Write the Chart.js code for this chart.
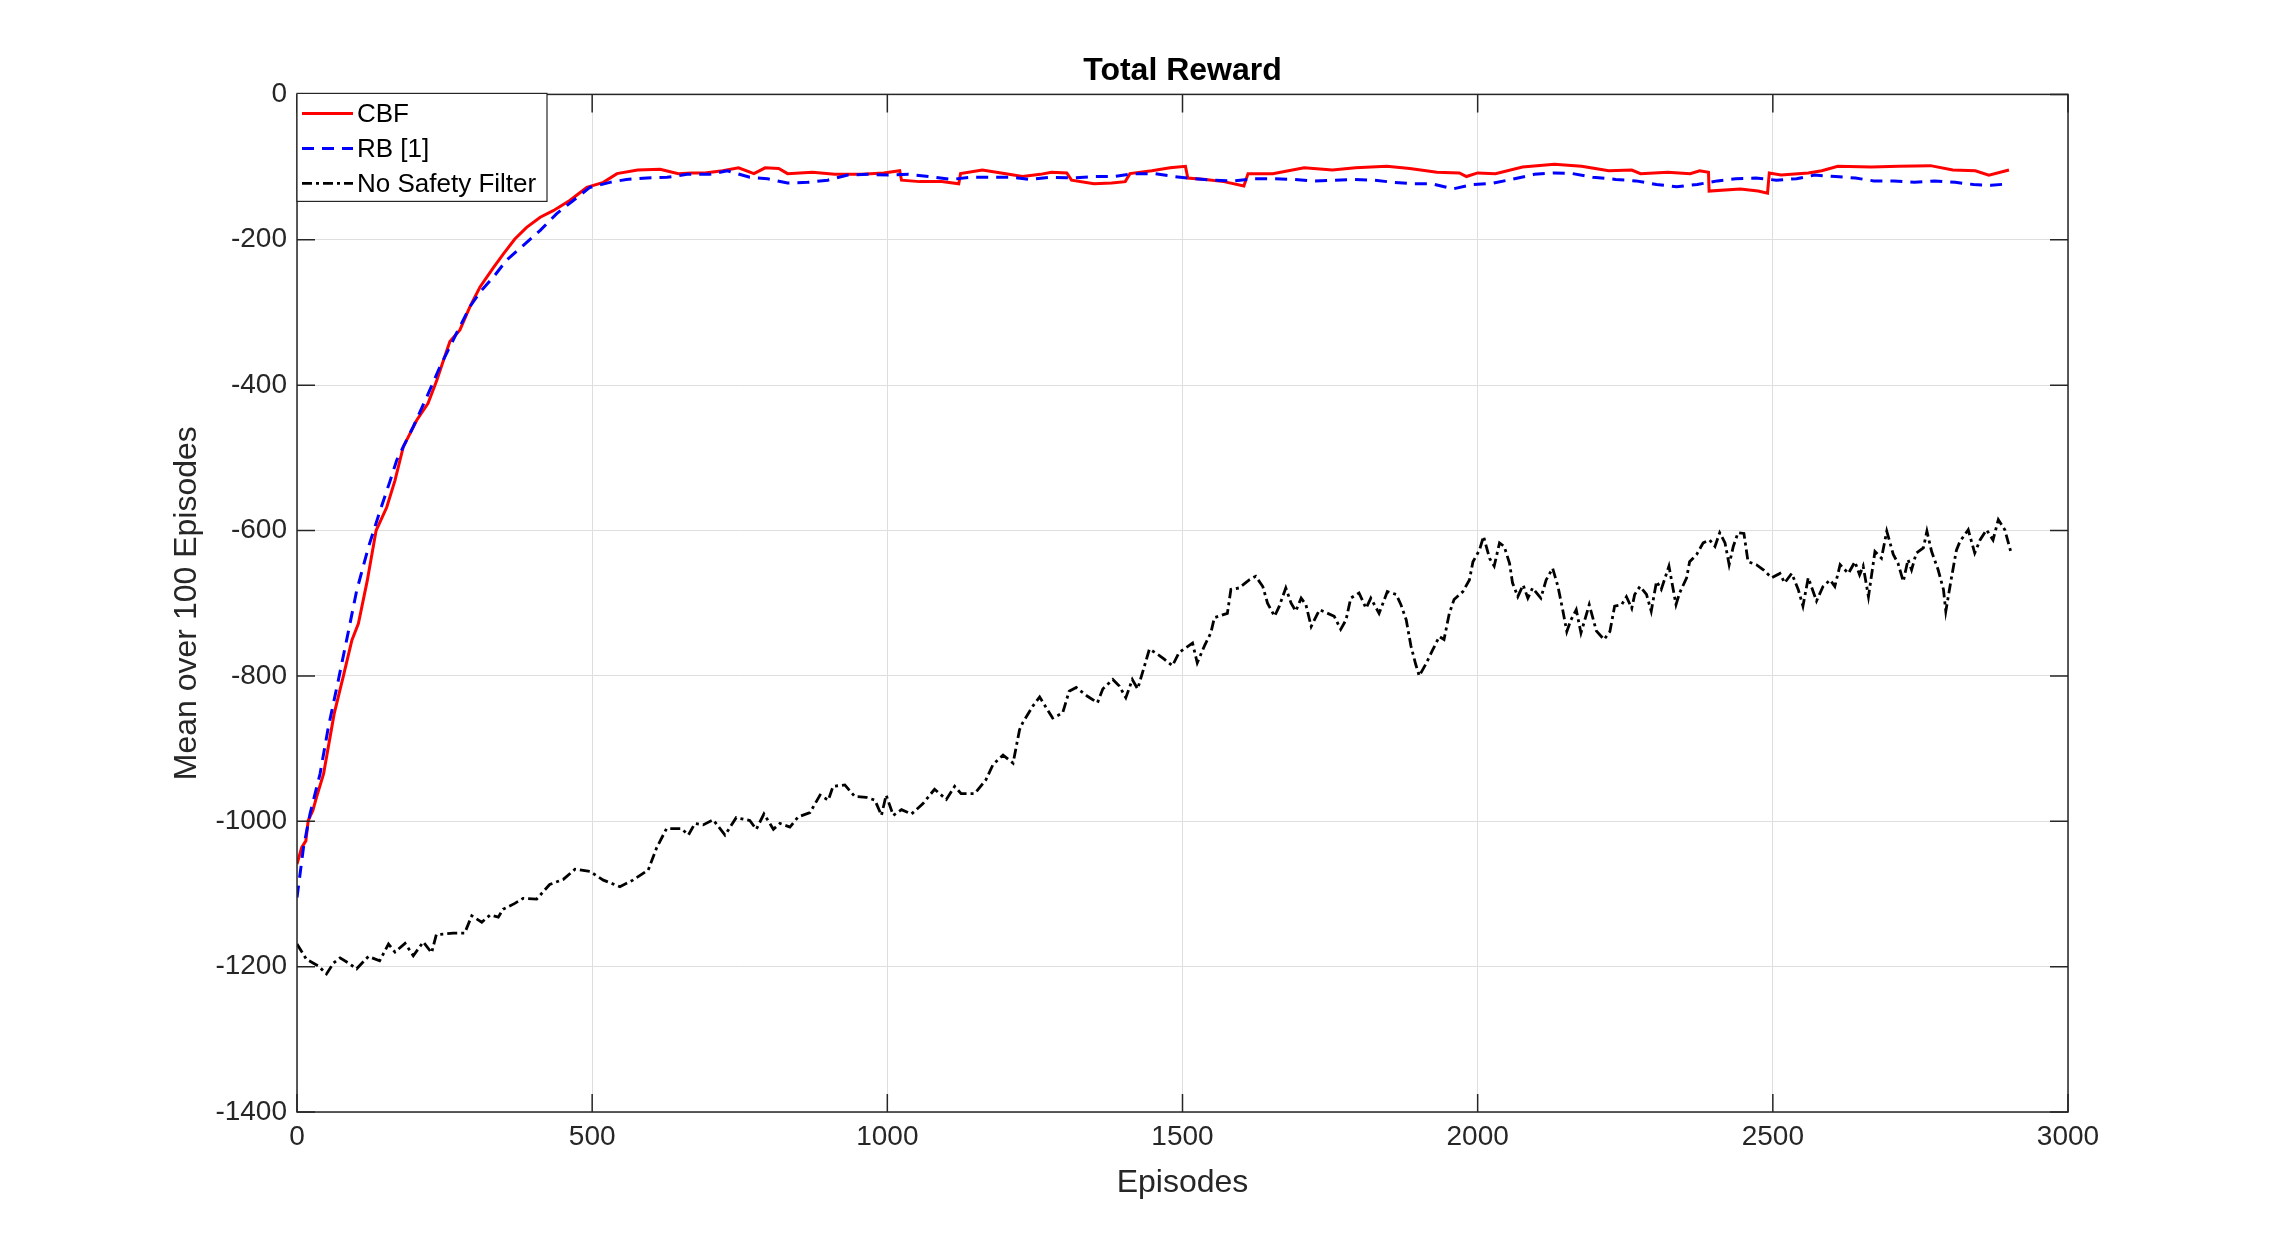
<!DOCTYPE html>
<html>
<head>
<meta charset="utf-8">
<script src="https://cdn.jsdelivr.net/npm/chart.js@4.4.1/dist/chart.umd.min.js"></script>
<style>
  html, body { margin: 0; padding: 0; background: #fff; }
  #wrap { width: 2286px; height: 1251px; }
</style>
</head>
<body>
<div id="wrap"><canvas id="chart" width="2286" height="1251"></canvas></div>
<script>
// values
const cbfEp = [0, 8, 15, 19, 27, 33, 45, 53, 63, 78, 93, 104, 119, 134, 152, 166, 180, 203, 222, 237, 248, 259, 276, 293, 310, 333, 350, 369, 389, 412, 434, 462, 491, 519, 542, 577, 615, 646, 668, 691, 721, 748, 774, 793, 816, 831, 873, 911, 956, 994, 1021, 1024, 1055, 1092, 1121, 1124, 1161, 1206, 1229, 1259, 1278, 1304, 1312, 1350, 1380, 1403, 1411, 1448, 1479, 1505, 1509, 1539, 1570, 1604, 1611, 1653, 1706, 1754, 1793, 1846, 1885, 1931, 1969, 1981, 2000, 2030, 2076, 2130, 2176, 2222, 2261, 2276, 2322, 2360, 2376, 2391, 2392, 2445, 2475, 2491, 2494, 2514, 2560, 2583, 2610, 2667, 2713, 2767, 2805, 2843, 2866, 2900];
const cbfVal = [-1059, -1036, -1027, -999, -985, -967, -935, -898, -852, -802, -751, -728, -669, -600, -568, -531, -485, -448, -425, -393, -366, -340, -324, -292, -265, -238, -219, -199, -183, -169, -160, -146, -128, -121, -109, -104, -103, -109, -108, -108, -105, -101, -109, -101, -102, -109, -107, -110, -110, -108, -105, -118, -120, -120, -123, -109, -104, -110, -113, -110, -107, -108, -118, -123, -122, -120, -109, -105, -101, -99, -115, -117, -120, -126, -109, -109, -101, -104, -101, -99, -102, -107, -108, -113, -108, -109, -100, -96, -99, -105, -104, -109, -107, -109, -105, -107, -133, -130, -133, -136, -108, -111, -108, -105, -99, -100, -99, -98, -104, -105, -111, -104];

const rbEp = [0, 11, 22, 39, 53, 70, 85, 101, 121, 139, 158, 169, 197, 220, 242, 270, 293, 310, 333, 355, 383, 412, 440, 468, 496, 530, 558, 593, 627, 661, 699, 729, 767, 797, 831, 865, 899, 933, 968, 1002, 1036, 1070, 1108, 1142, 1176, 1210, 1240, 1274, 1316, 1350, 1384, 1418, 1452, 1486, 1520, 1554, 1588, 1623, 1653, 1687, 1724, 1758, 1789, 1823, 1858, 1892, 1923, 1958, 1992, 2027, 2057, 2096, 2130, 2161, 2195, 2234, 2268, 2303, 2337, 2372, 2406, 2437, 2471, 2506, 2540, 2571, 2606, 2640, 2671, 2705, 2740, 2774, 2809, 2840, 2870, 2900];
const rbVal = [-1105, -1036, -990, -935, -871, -806, -747, -683, -623, -577, -531, -503, -457, -416, -375, -329, -292, -272, -251, -228, -208, -187, -164, -146, -128, -121, -117, -115, -114, -110, -110, -105, -114, -116, -122, -121, -118, -111, -110, -111, -110, -113, -117, -114, -114, -114, -117, -114, -115, -113, -113, -109, -109, -113, -116, -118, -119, -116, -116, -117, -119, -118, -117, -118, -121, -123, -123, -130, -124, -122, -117, -110, -108, -109, -114, -117, -119, -124, -127, -124, -119, -116, -115, -118, -116, -111, -113, -115, -119, -119, -121, -119, -121, -124, -125, -123];

const nsfEp = [0, 16, 36, 50, 62, 73, 87, 101, 121, 140, 155, 166, 183, 197, 214, 228, 236, 265, 284, 296, 313, 327, 341, 349, 369, 383, 406, 428, 451, 471, 496, 519, 547, 569, 595, 609, 626, 651, 663, 674, 688, 705, 725, 744, 767, 778, 791, 807, 818, 835, 849, 869, 886, 900, 908, 928, 945, 964, 979, 990, 998, 1010, 1024, 1041, 1060, 1080, 1100, 1114, 1125, 1148, 1167, 1179, 1196, 1213, 1224, 1229, 1246, 1258, 1280, 1297, 1308, 1320, 1339, 1356, 1365, 1382, 1393, 1404, 1415, 1424, 1435, 1444, 1461, 1469, 1483, 1494, 1517, 1525, 1537, 1548, 1554, 1568, 1576, 1582, 1596, 1613, 1624, 1636, 1644, 1656, 1664, 1675, 1684, 1692, 1701, 1709, 1718, 1732, 1746, 1757, 1768, 1777, 1785, 1799, 1811, 1819, 1833, 1847, 1862, 1870, 1879, 1887, 1895, 1901, 1912, 1924, 1935, 1943, 1952, 1960, 1975, 1986, 1992, 2003, 2010, 2020, 2028, 2037, 2045, 2054, 2059, 2068, 2077, 2085, 2093, 2107, 2116, 2127, 2136, 2144, 2151, 2158, 2167, 2175, 2189, 2201, 2214, 2224, 2232, 2244, 2252, 2261, 2266, 2275, 2286, 2294, 2303, 2311, 2324, 2336, 2342, 2354, 2359, 2371, 2382, 2393, 2402, 2410, 2419, 2426, 2433, 2441, 2451, 2458, 2472, 2484, 2498, 2512, 2520, 2532, 2543, 2551, 2560, 2574, 2585, 2597, 2605, 2614, 2628, 2639, 2647, 2653, 2662, 2673, 2684, 2693, 2704, 2712, 2721, 2729, 2735, 2743, 2755, 2761, 2769, 2780, 2789, 2793, 2803, 2811, 2817, 2831, 2842, 2851, 2862, 2873, 2882, 2893, 2903];
const nsfVal = [-1169, -1190, -1199, -1210, -1195, -1188, -1195, -1203, -1186, -1192, -1169, -1180, -1168, -1185, -1166, -1181, -1156, -1154, -1154, -1130, -1139, -1129, -1132, -1121, -1113, -1106, -1107, -1087, -1080, -1066, -1069, -1081, -1090, -1081, -1067, -1037, -1010, -1010, -1019, -1003, -1005, -998, -1019, -995, -999, -1011, -990, -1011, -1003, -1008, -994, -988, -964, -971, -952, -950, -966, -967, -971, -992, -964, -992, -984, -990, -976, -956, -970, -952, -962, -962, -943, -922, -909, -920, -874, -865, -842, -829, -858, -851, -821, -816, -828, -837, -818, -805, -814, -830, -805, -818, -788, -763, -772, -777, -786, -768, -755, -782, -759, -741, -720, -716, -714, -681, -679, -668, -663, -677, -700, -718, -704, -679, -700, -711, -693, -702, -732, -709, -714, -718, -736, -723, -693, -686, -707, -693, -714, -684, -688, -702, -723, -759, -784, -800, -784, -764, -746, -750, -714, -695, -684, -668, -643, -627, -608, -638, -649, -617, -622, -645, -672, -691, -675, -693, -679, -693, -668, -652, -677, -709, -739, -723, -709, -741, -702, -738, -750, -739, -704, -702, -691, -707, -688, -677, -688, -711, -670, -681, -649, -702, -686, -665, -643, -633, -617, -613, -622, -603, -617, -647, -622, -603, -604, -643, -647, -654, -665, -659, -672, -659, -681, -704, -665, -697, -677, -668, -677, -647, -659, -643, -661, -649, -691, -629, -638, -601, -633, -645, -670, -640, -654, -631, -624, -601, -629, -654, -681, -711, -663, -627, -615, -599, -631, -613, -599, -613, -585, -599, -629];

const seriesNames = ['CBF', 'RB [1]', 'No Safety Filter'];
const xTicks = [0, 500, 1000, 1500, 2000, 2500, 3000];
const yTicks = [-1400, -1200, -1000, -800, -600, -400, -200, 0];

const toPoints = (ep, val) => ep.map((e, i) => ({ x: e, y: val[i] }));

Chart.defaults.font.family = '"Liberation Sans", Arial, sans-serif';
Chart.defaults.color = '#262626';

// MATLAB-like box, inward ticks and legend inside the axes
const axesBox = {
  id: 'axesBox',
  afterDatasetsDraw(chart) {
    const { ctx, chartArea: a, scales: { x, y } } = chart;
    const len = 18;
    ctx.save();
    ctx.strokeStyle = '#262626';
    ctx.lineWidth = 1.5;
    ctx.beginPath();
    x.ticks.forEach(t => {
      const px = x.getPixelForValue(t.value);
      ctx.moveTo(px, a.bottom); ctx.lineTo(px, a.bottom - len);
      ctx.moveTo(px, a.top); ctx.lineTo(px, a.top + len);
    });
    y.ticks.forEach(t => {
      const py = y.getPixelForValue(t.value);
      ctx.moveTo(a.left, py); ctx.lineTo(a.left + len, py);
      ctx.moveTo(a.right, py); ctx.lineTo(a.right - len, py);
    });
    ctx.stroke();
    ctx.strokeRect(a.left, a.top, a.right - a.left, a.bottom - a.top);

    // legend
    const lx = a.left, ly = a.top - 1, lw = 250, lh = 108;
    ctx.fillStyle = '#fff';
    ctx.fillRect(lx, ly, lw, lh);
    ctx.strokeStyle = '#262626';
    ctx.lineWidth = 1.2;
    ctx.strokeRect(lx, ly, lw, lh);
    ctx.font = '26px "Liberation Sans", Arial, sans-serif';
    ctx.textBaseline = 'middle';
    chart.data.datasets.forEach((ds, i) => {
      const cy = ly + 20 + i * 35;
      ctx.strokeStyle = ds.borderColor;
      ctx.lineWidth = ds.borderWidth;
      ctx.setLineDash(ds.borderDash || []);
      ctx.beginPath();
      ctx.moveTo(lx + 5, cy);
      ctx.lineTo(lx + 56, cy);
      ctx.stroke();
      ctx.setLineDash([]);
      ctx.fillStyle = '#000';
      ctx.fillText(ds.label, lx + 60, cy + 1);
    });
    ctx.restore();
  }
};

new Chart(document.getElementById('chart'), {
  type: 'line',
  data: {
    datasets: [
      { label: seriesNames[0], data: toPoints(cbfEp, cbfVal), borderColor: '#ff0000', borderWidth: 3, order: 2 },
      { label: seriesNames[1], data: toPoints(rbEp, rbVal), borderColor: '#0000ff', borderWidth: 3, borderDash: [12, 8], order: 1 },
      { label: seriesNames[2], data: toPoints(nsfEp, nsfVal), borderColor: '#000000', borderWidth: 2.8, borderDash: [10, 4, 3, 4], order: 0 }
    ]
  },
  options: {
    responsive: false,
    animation: false,
    devicePixelRatio: 1,
    layout: { padding: { left: 0, top: 0, right: 218, bottom: 0 } },
    elements: { point: { radius: 0 }, line: { tension: 0, fill: false } },
    plugins: {
      legend: { display: false },
      tooltip: { enabled: false },
      title: {
        display: true,
        text: 'Total Reward',
        color: '#000',
        fullSize: false,
        font: { size: 32, weight: 'bold', lineHeight: 1.2 },
        padding: { top: 52, bottom: 4 }
      }
    },
    scales: {
      x: {
        type: 'linear',
        min: 0,
        max: 3000,
        afterBuildTicks: s => { s.ticks = xTicks.map(v => ({ value: v })); },
        afterFit: s => { s.height = 139; },
        ticks: { font: { size: 28 }, padding: 8, color: '#262626', maxRotation: 0, callback: v => String(v) },
        grid: { color: '#dedede', lineWidth: 1, drawTicks: false },
        border: { display: false },
        title: { display: true, text: 'Episodes', font: { size: 32 }, color: '#262626', padding: { top: 0, bottom: 49 } }
      },
      y: {
        type: 'linear',
        min: -1400,
        max: 0,
        afterBuildTicks: s => { s.ticks = yTicks.map(v => ({ value: v })); },
        afterFit: s => { s.width = 297; },
        ticks: { font: { size: 28 }, padding: 10, color: '#262626', callback: v => String(v) },
        grid: { color: '#dedede', lineWidth: 1, drawTicks: false },
        border: { display: false },
        title: { display: true, text: 'Mean over 100 Episodes', font: { size: 32 }, color: '#262626', padding: { top: 168, bottom: 0 } }
      }
    }
  },
  plugins: [axesBox]
});
</script>
</body>
</html>
